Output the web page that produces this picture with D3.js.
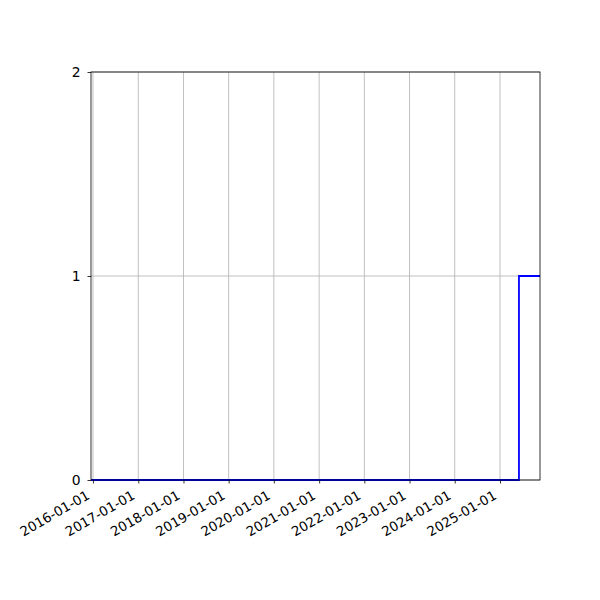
<!DOCTYPE html>
<html>
<head>
<meta charset="utf-8">
<script src="https://cdn.jsdelivr.net/npm/d3@7"></script>
<style>
  body { margin: 0; background: #fff; }
  text { font-family: "DejaVu Sans", sans-serif; }
</style>
</head>
<body>
<svg width="600" height="600"></svg>
<script>
const dates = ['2015-12-16', '2025-06-03', '2025-11-20'];
const values = [0, 1, 1];
const tickDates = ['2016-01-01', '2017-01-01', '2018-01-01', '2019-01-01', '2020-01-01',
    '2021-01-01', '2022-01-01', '2023-01-01', '2024-01-01', '2025-01-01'];
const yTicks = [0, 1, 2];

const svg = d3.select('svg');
const margin = { left: 91, right: 60, top: 72, bottom: 120 };
const width = +svg.attr('width');
const height = +svg.attr('height');

const parse = d3.utcParse('%Y-%m-%d');
const data = dates.map((d, i) => ({ date: parse(d), value: values[i] }));

const x = d3.scaleUtc()
    .domain([data[0].date, data[data.length - 1].date])
    .range([margin.left, width - margin.right]);

const y = d3.scaleLinear()
    .domain([0, 2])
    .range([height - margin.bottom, margin.top]);

const g = svg.append('g');

// grid
g.append('g')
    .selectAll('line')
    .data(tickDates.map(parse))
    .join('line')
    .attr('x1', d => x(d)).attr('x2', d => x(d))
    .attr('y1', y(0)).attr('y2', y(2))
    .attr('stroke', '#b0b0b0')
    .attr('stroke-width', 0.8);

g.append('g')
    .selectAll('line')
    .data(yTicks)
    .join('line')
    .attr('x1', x.range()[0]).attr('x2', x.range()[1])
    .attr('y1', d => y(d)).attr('y2', d => y(d))
    .attr('stroke', '#b0b0b0')
    .attr('stroke-width', 0.8);

// step line
const line = d3.line()
    .x(d => x(d.date))
    .y(d => y(d.value))
    .curve(d3.curveStepAfter);

g.append('path')
    .datum(data)
    .attr('d', line)
    .attr('fill', 'none')
    .attr('stroke', 'blue')
    .attr('stroke-width', 1.8);

// axes
const xAxis = g.append('g')
    .attr('transform', `translate(0,${y(0)})`)
    .call(d3.axisBottom(x)
        .tickValues(tickDates.map(parse))
        .tickFormat(d3.utcFormat('%Y-%m-%d'))
        .tickSize(3.5)
        .tickSizeOuter(0));

xAxis.select('.domain').remove();
xAxis.selectAll('.tick line').attr('stroke', 'black').attr('stroke-width', 0.8);
xAxis.selectAll('.tick text')
    .attr('font-size', 13.3)
    .attr('fill', 'black')
    .attr('text-anchor', 'end')
    .attr('dy', null)
    .attr('y', 0)
    .attr('transform', 'translate(-3,18) rotate(-30)');

const yAxis = g.append('g')
    .attr('transform', `translate(${margin.left},0)`)
    .call(d3.axisLeft(y)
        .tickValues(yTicks)
        .tickFormat(d3.format('d'))
        .tickSize(3.5)
        .tickSizeOuter(0));

yAxis.select('.domain').remove();
yAxis.selectAll('.tick line').attr('stroke', 'black').attr('stroke-width', 0.8);
yAxis.selectAll('.tick text')
    .attr('font-size', 13.9)
    .attr('fill', 'black')
    .attr('x', -10.5);

// frame
g.append('rect')
    .attr('x', x.range()[0])
    .attr('y', margin.top)
    .attr('width', x.range()[1] - x.range()[0])
    .attr('height', y(0) - margin.top)
    .attr('fill', 'none')
    .attr('stroke', 'black')
    .attr('stroke-width', 0.8);
</script>
</body>
</html>
